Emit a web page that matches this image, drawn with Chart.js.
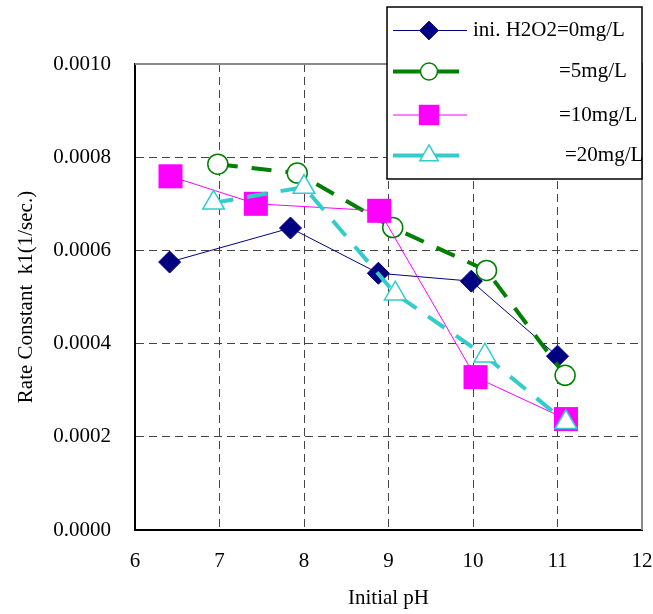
<!DOCTYPE html>
<html>
<head>
<meta charset="utf-8">
<script src="https://cdn.jsdelivr.net/npm/chart.js@4.4.1/dist/chart.umd.min.js"></script>
<style>
  html, body { margin: 0; padding: 0; background: #fff; }
  #wrap { width: 653px; height: 614px; position: relative; }
</style>
</head>
<body>
<div id="wrap"><canvas id="chart"></canvas></div>
<script>
// --- Data ---
const seriesLabels = ['ini. H2O2=0mg/L', '=5mg/L', '=10mg/L', '=20mg/L'];

const ph0 = [6.41, 7.84, 8.88, 9.98, 11.00];
const k0 = [0.000575, 0.000648, 0.000551, 0.000534, 0.000373];

const ph5 = [6.98, 7.92, 9.05, 10.16, 11.09];
const k5 = [0.000785, 0.000766, 0.000649, 0.000557, 0.000332];

const ph10 = [6.42, 7.43, 8.89, 10.03, 11.10];
const k10 = [0.000759, 0.000700, 0.000685, 0.000328, 0.000238];

const ph20 = [6.93, 8.00, 9.08, 10.14, 11.10];
const k20 = [0.000702, 0.000736, 0.000507, 0.000374, 0.000231];

const xTicks = [6, 7, 8, 9, 10, 11, 12];
const yTicks = [0, 0.0002, 0.0004, 0.0006, 0.0008, 0.0010];

const FONT = "'Liberation Serif', 'Times New Roman', serif";

function toPoints(xs, ys) {
    return xs.map((x, i) => ({ x: x, y: ys[i] }));
}

// frame: gray top/right edges (left/bottom come from the axis borders)
const framePlugin = {
    id: 'frame',
    beforeDatasetsDraw(chart) {
        const { ctx, chartArea: a } = chart;
        ctx.save();
        ctx.strokeStyle = '#8a8a8a';
        ctx.lineWidth = 2;
        ctx.beginPath();
        ctx.moveTo(a.left, a.top);
        ctx.lineTo(a.right, a.top);
        ctx.lineTo(a.right, a.bottom);
        ctx.stroke();
        ctx.restore();
    }
};

// boxed legend in the top-right corner, like the spreadsheet original
const boxLegendPlugin = {
    id: 'boxLegend',
    afterDraw(chart) {
        const { ctx } = chart;
        const box = { x: 387, y: 7, w: 255, h: 172 };
        const rowY = [30.5, 71.5, 115, 155.5];
        const textX = [473, 559, 559, 565];
        const lineEnd = [467, 459, 467, 459];

        ctx.save();
        ctx.fillStyle = '#fff';
        ctx.fillRect(box.x, box.y, box.w, box.h);
        ctx.strokeStyle = '#000';
        ctx.lineWidth = 1.5;
        ctx.strokeRect(box.x, box.y, box.w, box.h);

        chart.data.datasets.forEach((ds, i) => {
            const y = rowY[i];
            ctx.strokeStyle = ds.borderColor;
            ctx.lineWidth = ds.borderWidth;
            ctx.setLineDash([]);
            ctx.beginPath();
            ctx.moveTo(393, y);
            ctx.lineTo(lineEnd[i], y);
            ctx.stroke();

            ctx.fillStyle = ds.pointBackgroundColor;
            ctx.strokeStyle = ds.pointBorderColor;
            ctx.lineWidth = ds.pointBorderWidth;
            Chart.helpers.drawPoint(ctx, {
                pointStyle: ds.pointStyle,
                radius: ds.pointRadius * 0.85,
                rotation: 0,
                borderWidth: ds.pointBorderWidth
            }, 429, y);

            ctx.fillStyle = '#000';
            ctx.font = '21px ' + FONT;
            ctx.textBaseline = 'middle';
            ctx.textAlign = 'left';
            ctx.fillText(ds.label, textX[i], y);
        });
        ctx.restore();
    }
};

const ctx = document.getElementById('chart').getContext('2d');
new Chart(ctx, {
    type: 'scatter',
    data: {
        datasets: [
            {
                label: seriesLabels[0],
                data: toPoints(ph0, k0),
                showLine: true,
                borderColor: '#000080',
                borderWidth: 1,
                pointStyle: 'rectRot',
                pointRadius: 11,
                pointBackgroundColor: '#000080',
                pointBorderColor: '#000080',
                pointBorderWidth: 1,
                order: 3
            },
            {
                label: seriesLabels[1],
                data: toPoints(ph5, k5),
                showLine: true,
                borderColor: '#008000',
                borderWidth: 4,
                borderDash: [20, 14],
                pointStyle: 'circle',
                pointRadius: 10,
                pointBackgroundColor: '#fff',
                pointBorderColor: '#008000',
                pointBorderWidth: 1.5,
                order: 2
            },
            {
                label: seriesLabels[2],
                data: toPoints(ph10, k10),
                showLine: true,
                borderColor: '#ff00ff',
                borderWidth: 1,
                pointStyle: 'rect',
                pointRadius: 17,
                pointBackgroundColor: '#ff00ff',
                pointBorderColor: '#ff00ff',
                pointBorderWidth: 0,
                order: 1
            },
            {
                label: seriesLabels[3],
                data: toPoints(ph20, k20),
                showLine: true,
                borderColor: '#33cccc',
                borderWidth: 4,
                borderDash: [20, 14],
                pointStyle: 'triangle',
                pointRadius: 12.5,
                pointBackgroundColor: '#fff',
                pointBorderColor: '#33cccc',
                pointBorderWidth: 1.5,
                order: 0
            }
        ]
    },
    options: {
        responsive: true,
        maintainAspectRatio: false,
        animation: false,
        layout: { autoPadding: false, padding: { top: 64, right: 11, left: 0, bottom: 0 } },
        plugins: {
            legend: { display: false },
            tooltip: { enabled: false }
        },
        scales: {
            x: {
                type: 'linear',
                min: 6,
                max: 12,
                afterFit: (scale) => {
                    scale.height = 84;
                    scale.paddingLeft = 0;
                    scale.paddingRight = 0;
                },
                afterBuildTicks: (scale) => { scale.ticks = xTicks.map(v => ({ value: v })); },
                ticks: {
                    color: '#000',
                    font: { family: FONT, size: 21 },
                    padding: 19,
                    maxRotation: 0
                },
                grid: {
                    drawTicks: false,
                    color: (c) => (c.tick && (c.tick.value === 6 || c.tick.value === 12)) ? 'rgba(0,0,0,0)' : '#444',
                    lineWidth: 1
                },
                border: { display: true, color: '#000', width: 2, dash: [8, 5] },
                title: {
                    display: true,
                    text: 'Initial pH',
                    color: '#000',
                    font: { family: FONT, size: 21 },
                    padding: { top: 0, bottom: 3 }
                }
            },
            y: {
                min: 0,
                max: 0.001,
                afterFit: (scale) => { scale.width = 135; },
                afterBuildTicks: (scale) => { scale.ticks = yTicks.map(v => ({ value: v })); },
                ticks: {
                    color: '#000',
                    font: { family: FONT, size: 21 },
                    padding: 24,
                    callback: (v) => Number(v).toFixed(4)
                },
                grid: {
                    drawTicks: false,
                    color: (c) => (c.tick && (c.tick.value === 0 || c.tick.value >= 0.001)) ? 'rgba(0,0,0,0)' : '#444',
                    lineWidth: 1
                },
                border: { display: true, color: '#000', width: 2, dash: [8, 5] },
                title: {
                    display: true,
                    text: 'Rate Constant  k1(1/sec.)',
                    color: '#000',
                    font: { family: FONT, size: 21 },
                    padding: { top: 14, bottom: 0 }
                }
            }
        }
    },
    plugins: [framePlugin, boxLegendPlugin]
});
</script>
</body>
</html>
